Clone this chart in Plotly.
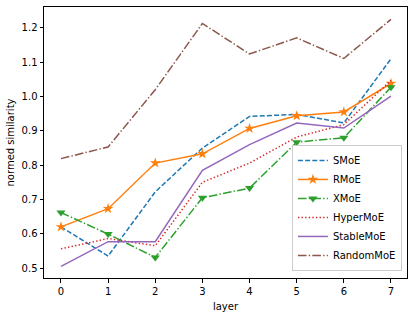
import plotly.graph_objects as go

layers = [0, 1, 2, 3, 4, 5, 6, 7]
smoe = [0.620, 0.535, 0.722, 0.850, 0.942, 0.948, 0.923, 1.110]
rmoe = [0.620, 0.673, 0.806, 0.833, 0.907, 0.944, 0.955, 1.038]
xmoe = [0.662, 0.599, 0.531, 0.705, 0.733, 0.867, 0.880, 1.027]
hypermoe = [0.556, 0.586, 0.565, 0.750, 0.806, 0.882, 0.918, 1.047]
stablemoe = [0.505, 0.577, 0.577, 0.785, 0.860, 0.923, 0.908, 1.001]
randommoe = [0.819, 0.853, 1.020, 1.213, 1.124, 1.171, 1.111, 1.225]

DASH = "5px,2.2px"
DOT = "1.4px,2.2px"
DASHDOT = "8.6px,2.2px,1.4px,2.2px"

series = [
    ("SMoE", smoe, "#1f77b4", DASH, None),
    ("RMoE", rmoe, "#ff7f0e", "solid", "star"),
    ("XMoE", xmoe, "#2ca02c", DASHDOT, "triangle-down"),
    ("HyperMoE", hypermoe, "#d62728", DOT, None),
    ("StableMoE", stablemoe, "#9467bd", "solid", None),
    ("RandomMoE", randommoe, "#8c564b", DASHDOT, None),
]

fig = go.Figure()
for name, ys, color, dash, marker in series:
    kw = {}
    if marker:
        kw["mode"] = "lines+markers"
        kw["marker"] = dict(symbol=marker, size=8, color=color)
    else:
        kw["mode"] = "lines"
    fig.add_trace(go.Scatter(x=layers, y=ys, name=name,
                             line=dict(color=color, dash=dash, width=1.5), **kw))

axis_common = dict(showline=True, linecolor="black", linewidth=1, mirror=True,
                   ticks="outside", ticklen=3.5, tickcolor="black",
                   showgrid=False, zeroline=False, automargin=False,
                   tickfont=dict(family="DejaVu Sans", size=10, color="black"))

fig.update_layout(
    width=415, height=317,
    margin=dict(l=44, r=8, t=7, b=39, autoexpand=False),
    plot_bgcolor="white", paper_bgcolor="white",
    font=dict(family="DejaVu Sans", size=10, color="black"),
    xaxis=dict(range=[-0.36, 7.34], tickvals=layers,
               title=dict(text="layer", font=dict(size=10), standoff=7), **axis_common),
    yaxis=dict(range=[0.471, 1.261], tickvals=[0.5, 0.6, 0.7, 0.8, 0.9, 1.0, 1.1, 1.2],
               ticktext=["0.5", "0.6", "0.7", "0.8", "0.9", "1.0", "1.1", "1.2"],
               title=dict(text="normed similarity", font=dict(size=10), standoff=5),
               **axis_common),
    legend=dict(x=0.986, y=0.026, xanchor="right", yanchor="bottom",
                bgcolor="rgba(255,255,255,0.8)", bordercolor="#cccccc", borderwidth=1,
                font=dict(size=10), tracegroupgap=0, itemwidth=30),
    showlegend=True,
)

fig.write_html("out.html", config={"displayModeBar": False},
               post_script="document.body.style.margin='0';")
